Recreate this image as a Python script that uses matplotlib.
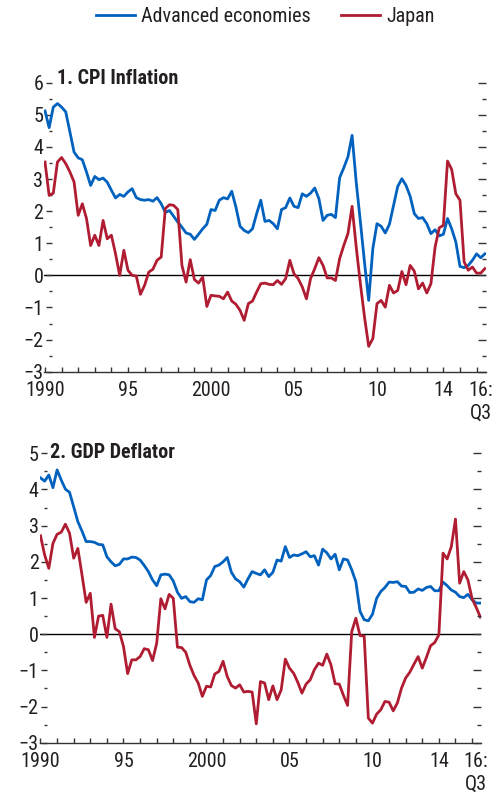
import numpy as np
import matplotlib
matplotlib.use("Agg")
import matplotlib.pyplot as plt
from matplotlib.ticker import MultipleLocator
from matplotlib.lines import Line2D
import matplotlib.transforms as mtransforms

plt.rcParams['font.family'] = ['Roboto Condensed', 'DejaVu Sans']
plt.rcParams['font.stretch'] = 'condensed'
plt.rcParams['axes.unicode_minus'] = True

start_year = 1990
series_names = ["Advanced economies", "Japan"]
titles = ["1. CPI Inflation", "2. GDP Deflator"]

cpi_adv = [5.12, 4.6, 5.24, 5.35, 5.24, 5.09, 4.47, 3.84, 3.66, 3.6,
           3.22, 2.8, 3.08, 2.98, 3.03, 2.9, 2.65, 2.41, 2.52, 2.46,
           2.6, 2.7, 2.42, 2.36, 2.34, 2.36, 2.31, 2.42, 2.23, 1.96,
           2.02, 1.84, 1.66, 1.5, 1.32, 1.28, 1.12, 1.28, 1.45, 1.59,
           2.05, 2.02, 2.34, 2.42, 2.38, 2.62, 2.13, 1.53, 1.4, 1.33,
           1.45, 1.92, 2.34, 1.68, 1.71, 1.61, 1.45, 2.05, 2.11, 2.41,
           2.15, 2.11, 2.54, 2.46, 2.56, 2.72, 2.39, 1.71, 1.87, 1.9,
           1.8, 3.04, 3.35, 3.69, 4.36, 2.9, 1.67, 0.4, -0.78, 0.83,
           1.61, 1.53, 1.32, 1.59, 2.18, 2.77, 3.01, 2.8, 2.46, 1.92,
           1.77, 1.8, 1.61, 1.3, 1.42, 1.23, 1.28, 1.77, 1.45, 1.04,
           0.28, 0.24, 0.31, 0.47, 0.67, 0.55, 0.67]

cpi_jpn = [3.53, 2.49, 2.56, 3.53, 3.67, 3.48, 3.22, 2.91, 1.87, 2.23,
           1.77, 0.93, 1.25, 0.93, 1.71, 1.14, 1.25, 0.67, 0.0, 0.78,
           0.16, 0.0, -0.02, -0.59, -0.31, 0.1, 0.19, 0.47, 0.57, 2.08,
           2.2, 2.18, 2.05, 0.31, -0.21, 0.49, -0.13, -0.24, -0.05, -0.97,
           -0.62, -0.64, -0.65, -0.73, -0.52, -0.8, -0.9, -1.09, -1.4, -0.88,
           -0.8, -0.52, -0.26, -0.24, -0.28, -0.29, -0.16, -0.28, -0.1, 0.47,
           0.05, -0.1, -0.36, -0.73, -0.1, 0.21, 0.55, 0.31, -0.08, -0.08,
           -0.16, 0.52, 0.93, 1.3, 2.15, 0.88, -0.26, -1.3, -2.21, -1.97,
           -0.88, -0.78, -0.99, -0.31, -0.55, -0.47, 0.12, -0.29, 0.31, 0.13,
           -0.42, -0.24, -0.55, -0.26, 0.88, 1.48, 1.56, 3.56, 3.3, 2.54,
           2.34, 0.42, 0.16, 0.26, 0.07, 0.07, 0.21]

gdp_adv = [4.32, 4.23, 4.4, 4.05, 4.54, 4.26, 4.01, 3.92, 3.52, 3.11,
           2.85, 2.56, 2.56, 2.54, 2.48, 2.47, 2.14, 2.0, 1.89, 1.93,
           2.08, 2.08, 2.13, 2.12, 2.05, 1.9, 1.73, 1.5, 1.34, 1.64,
           1.66, 1.64, 1.47, 1.16, 0.99, 1.04, 0.9, 0.88, 0.98, 0.95,
           1.5, 1.62, 1.87, 1.91, 2.0, 2.12, 1.71, 1.53, 1.45, 1.3,
           1.53, 1.73, 1.68, 1.64, 1.78, 1.59, 1.71, 2.05, 2.02, 2.42,
           2.12, 2.19, 2.17, 2.22, 2.28, 2.14, 2.17, 1.91, 2.35, 2.25,
           2.08, 2.21, 1.78, 2.08, 2.05, 1.78, 1.45, 0.63, 0.4, 0.37,
           0.55, 0.99, 1.18, 1.29, 1.44, 1.43, 1.45, 1.33, 1.32, 1.15,
           1.16, 1.25, 1.21, 1.29, 1.32, 1.2, 1.2, 1.44, 1.34, 1.22,
           1.16, 1.04, 1.01, 1.1, 0.95, 0.86, 0.86]

gdp_jpn = [2.72, 2.19, 1.82, 2.51, 2.76, 2.82, 3.04, 2.79, 2.1, 2.37,
           1.64, 0.88, 1.13, -0.09, 0.5, 0.52, -0.09, 0.83, 0.15, 0.07,
           -0.34, -1.09, -0.71, -0.71, -0.62, -0.4, -0.43, -0.73, -0.25, 0.98,
           0.7, 1.1, 0.99, -0.36, -0.37, -0.5, -0.86, -1.14, -1.35, -1.72,
           -1.44, -1.46, -1.1, -1.03, -0.75, -1.17, -1.42, -1.49, -1.4, -1.6,
           -1.58, -1.6, -2.48, -1.31, -1.35, -1.81, -1.43, -1.81, -1.54, -0.69,
           -0.94, -1.08, -1.33, -1.63, -1.38, -1.26, -0.98, -0.8, -0.86, -0.55,
           -0.85, -1.37, -1.38, -1.69, -1.97, 0.07, 0.44, -0.04, -0.05, -2.32,
           -2.46, -2.21, -2.09, -1.86, -1.88, -2.12, -1.9, -1.49, -1.21, -1.05,
           -0.83, -0.62, -0.94, -0.64, -0.32, -0.23, -0.02, 2.24, 2.08, 2.42,
           3.18, 1.41, 1.73, 1.5, 0.98, 0.74, 0.47]

year_ticks = list(range(1990, 2017))
year_labels = {1990: "1990", 1995: "95", 2000: "2000", 2005: "05", 2010: "10", 2014: "14"}
last_label = "16:\nQ3"
cpi_yticks = list(range(-3, 7))
gdp_yticks = list(range(-3, 6))

BLUE = "#0062BE"
RED = "#B01C31"
DARK = "#231F20"
FS = 14.5
XPAD = 7.0
W, H = 496, 797

fig = plt.figure(figsize=(W / 100, H / 100), dpi=100)

t = start_year + np.arange(len(cpi_adv)) / 4.0

panels = [
    dict(rect=[44 / W, (H - 371.7) / H, 441.7 / W, 289.0 / H], ylim=(-3, 6),
         yticks=cpi_yticks, adv=cpi_adv, jpn=cpi_jpn, title=titles[0],
         title_xy=(57, 79)),
    dict(rect=[39.5 / W, (H - 742.7) / H, 441.7 / W, 289.4 / H], ylim=(-3, 5),
         yticks=gdp_yticks, adv=gdp_adv, jpn=gdp_jpn, title=titles[1],
         title_xy=(50, 452)),
]

for p in panels:
    ax = fig.add_axes(p["rect"])
    ax.set_xlim(1989.94, 2016.55)
    ax.set_ylim(*p["ylim"])
    ax.axhline(0, color="black", lw=1.0, zorder=1)
    ax.plot(t, p["adv"], color=BLUE, lw=2.0, zorder=3, solid_joinstyle="round")
    ax.plot(t, p["jpn"], color=RED, lw=2.0, zorder=4, solid_joinstyle="round")

    for s in ["top", "right", "left"]:
        ax.spines[s].set_visible(False)
    ax.spines["bottom"].set_color("#333333")
    ax.spines["bottom"].set_linewidth(1.0)
    ax.spines["left"].set_position(("outward", -5.5))

    ax.set_xticks(year_ticks)
    ax.set_xticklabels([year_labels.get(y, "") for y in year_ticks])
    ax.tick_params(axis="x", direction="in", length=3.8, width=1.0,
                   color="#333333", labelsize=FS, labelcolor=DARK, pad=XPAD)

    ax.set_yticks(p["yticks"])
    ax.yaxis.set_minor_locator(MultipleLocator(0.5))
    ax.tick_params(axis="y", which="major", direction="out", length=4.0,
                   width=1.0, color="#333333", labelsize=FS, labelcolor=DARK, pad=2.0)
    ax.tick_params(axis="y", which="minor", direction="out", length=2.0,
                   width=1.0, color="#333333")

    tw = ax.twinx()
    tw.set_ylim(*p["ylim"])
    tw.set_yticks(p["yticks"])
    tw.yaxis.set_minor_locator(MultipleLocator(0.5))
    tw.tick_params(axis="y", which="major", direction="in", length=5.8,
                   width=1.0, color="#333333", labelright=False)
    tw.tick_params(axis="y", which="minor", direction="in", length=3.0,
                   width=1.0, color="#333333")
    for s in tw.spines.values():
        s.set_visible(False)

    trans = mtransforms.blended_transform_factory(ax.transData, ax.transAxes) + \
        mtransforms.ScaledTranslation(4 / 100, -XPAD * 1.389 / 100, fig.dpi_scale_trans)
    ax.text(2016, 0, last_label, transform=trans, ha="center", va="top",
            fontsize=FS, color=DARK, linespacing=1.25)

    tx, ty = p["title_xy"]
    fig.text(tx / W, 1 - ty / H, p["title"], fontsize=FS, fontweight="bold",
             color=DARK, ha="left", va="center")

handles = [Line2D([], [], color=BLUE, lw=2.0), Line2D([], [], color=RED, lw=2.0)]
fig.legend(handles, series_names, loc="center", bbox_to_anchor=(265 / W, 1 - 17 / H),
           ncol=2, frameon=False, fontsize=FS, handlelength=1.95,
           handletextpad=0.3, columnspacing=1.5, labelcolor=DARK)

fig.savefig("out.png", dpi=100)
